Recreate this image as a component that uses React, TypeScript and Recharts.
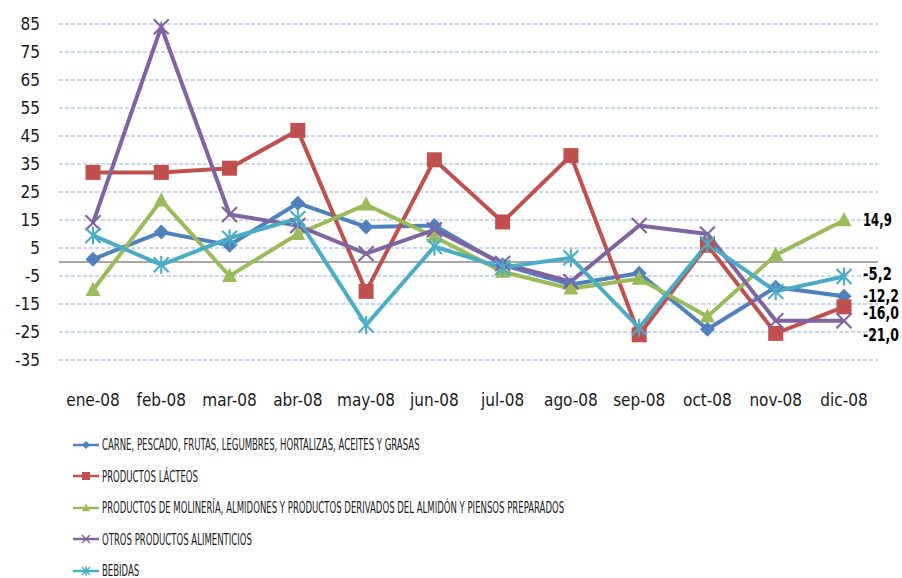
import React from "react";
import { LineChart, Line, XAxis, YAxis, CartesianGrid, ReferenceLine } from "recharts";

const months = ["ene-08", "feb-08", "mar-08", "abr-08", "may-08", "jun-08", "jul-08", "ago-08", "sep-08", "oct-08", "nov-08", "dic-08"];
const yTicks = [-35, -25, -15, -5, 5, 15, 25, 35, 45, 55, 65, 75, 85];

const carne = [1, 10.7, 6, 21, 12.5, 13, -1, -8, -4, -24, -9, -12.2];
const lacteos = [32, 32, 33.5, 47, -10.5, 36.5, 14.3, 38, -26, 6, -25.5, -16.0];
const molineria = [-10, 22, -5, 10, 20.5, 9, -3.5, -9.5, -6, -19.5, 2.5, 14.9];
const otros = [14, 84, 17, 13, 3, 11.5, -0.5, -7, 13, 10, -21, -21.0];
const bebidas = [9.5, -1, 8.5, 15.5, -22.5, 5.5, -2, 1.5, -23.5, 6.5, -10.5, -5.2];

const FONT = "'Liberation Sans Narrow', 'DejaVu Sans Condensed', 'Liberation Sans', sans-serif";

type Shape = "diamond" | "square" | "triangle" | "x" | "star";

const series: { key: string; name: string; color: string; shape: Shape; labelDy: number }[] = [
  { key: "carne", name: "CARNE, PESCADO, FRUTAS, LEGUMBRES, HORTALIZAS, ACEITES Y GRASAS", color: "#4F81BD", shape: "diamond", labelDy: 0 },
  { key: "lacteos", name: "PRODUCTOS LÁCTEOS", color: "#C0504D", shape: "square", labelDy: 6 },
  { key: "molineria", name: "PRODUCTOS DE MOLINERÍA, ALMIDONES Y PRODUCTOS DERIVADOS DEL ALMIDÓN Y PIENSOS PREPARADOS", color: "#9BBB59", shape: "triangle", labelDy: 0 },
  { key: "otros", name: "OTROS PRODUCTOS ALIMENTICIOS", color: "#8064A2", shape: "x", labelDy: 14 },
  { key: "bebidas", name: "BEBIDAS", color: "#4BACC6", shape: "star", labelDy: -3 },
];

const data = months.map((m, i) => ({
  month: m,
  carne: carne[i],
  lacteos: lacteos[i],
  molineria: molineria[i],
  otros: otros[i],
  bebidas: bebidas[i],
}));

function Marker({ shape, color, cx, cy, s }: { shape: Shape; color: string; cx: number; cy: number; s: number }) {
  if (shape === "diamond") {
    return <polygon points={`${cx},${cy - s} ${cx + s},${cy} ${cx},${cy + s} ${cx - s},${cy}`} fill={color} />;
  }
  if (shape === "square") {
    return <rect x={cx - s} y={cy - s} width={s * 2} height={s * 2} fill={color} />;
  }
  if (shape === "triangle") {
    return <polygon points={`${cx},${cy - s * 1.1} ${cx + s},${cy + s * 0.8} ${cx - s},${cy + s * 0.8}`} fill={color} />;
  }
  const w = Math.max(1.5, s * 0.28);
  return (
    <g stroke={color} strokeWidth={w}>
      <line x1={cx - s} y1={cy - s} x2={cx + s} y2={cy + s} />
      <line x1={cx - s} y1={cy + s} x2={cx + s} y2={cy - s} />
      {shape === "star" && <line x1={cx} y1={cy - s * 1.2} x2={cx} y2={cy + s * 1.2} />}
    </g>
  );
}

function makeDot(shape: Shape, color: string) {
  return (props: any) => {
    const { cx, cy, index } = props;
    if (cx == null || cy == null) return <g key={index} />;
    return (
      <g key={index}>
        <Marker shape={shape} color={color} cx={cx} cy={cy} s={7.5} />
      </g>
    );
  };
}

function makeEndLabel(dyExtra: number) {
  return (props: any) => {
    const { x, y, value, index } = props;
    if (index !== months.length - 1) return null;
    const txt = Number(value).toFixed(1).replace(".", ",");
    return (
      <text
        key={index}
        x={x + 19}
        y={y + dyExtra}
        dy="0.35em"
        fontFamily={FONT}
        fontSize={17}
        fontWeight={700}
        fill="#000"
        textLength={txt.length * 7.2}
        lengthAdjust="spacingAndGlyphs"
      >
        {txt}
      </text>
    );
  };
}

export default function App() {
  return (
    <div style={{ position: "absolute", left: 0, top: 0, width: 902, height: 578, background: "#fff" }}>
      <LineChart width={902} height={420} data={data} margin={{ top: 24, right: 24, left: 0, bottom: 0 }}>
        <CartesianGrid vertical={false} stroke="#BBCCEA" strokeDasharray="4 2" strokeWidth={1.5} />
        <XAxis
          dataKey="month"
          axisLine={false}
          tickLine={false}
          tickSize={0}
          tickMargin={34}
          height={60}
          interval={0}
          padding={{ left: 34, right: 34 }}
          tick={{ fontFamily: FONT, fontSize: 17, fill: "#1a1a1a" }}
        />
        <YAxis
          domain={[-35, 85]}
          ticks={yTicks}
          interval={0}
          width={59}
          axisLine={false}
          tickLine={false}
          tickSize={0}
          tickMargin={19}
          tick={{ fontFamily: FONT, fontSize: 17, fill: "#1a1a1a" }}
        />
        <ReferenceLine y={0} stroke="#8a8a8a" strokeWidth={1.5} />
        {series.map((s) => (
          <Line
            key={s.key}
            dataKey={s.key}
            name={s.name}
            stroke={s.color}
            strokeWidth={4}
            dot={makeDot(s.shape, s.color)}
            activeDot={false}
            isAnimationActive={false}
            label={makeEndLabel(s.labelDy)}
          />
        ))}
      </LineChart>
      <div style={{ position: "absolute", left: 73, top: 429 }}>
        {series.map((s) => (
          <div key={s.key} style={{ display: "flex", alignItems: "center", height: 31.5 }}>
            <svg width={29} height={16} style={{ flex: "none" }}>
              <line x1={0} y1={8} x2={26} y2={8} stroke={s.color} strokeWidth={2.5} />
              <Marker shape={s.shape} color={s.color} cx={13} cy={8} s={4} />
            </svg>
            <span
              style={{
                display: "inline-block",
                fontFamily: FONT,
                fontSize: 16.5,
                color: "#1a1a1a",
                whiteSpace: "nowrap",
                transform: "scaleX(0.575)",
                transformOrigin: "left center",
              }}
            >
              {s.name}
            </span>
          </div>
        ))}
      </div>
    </div>
  );
}
